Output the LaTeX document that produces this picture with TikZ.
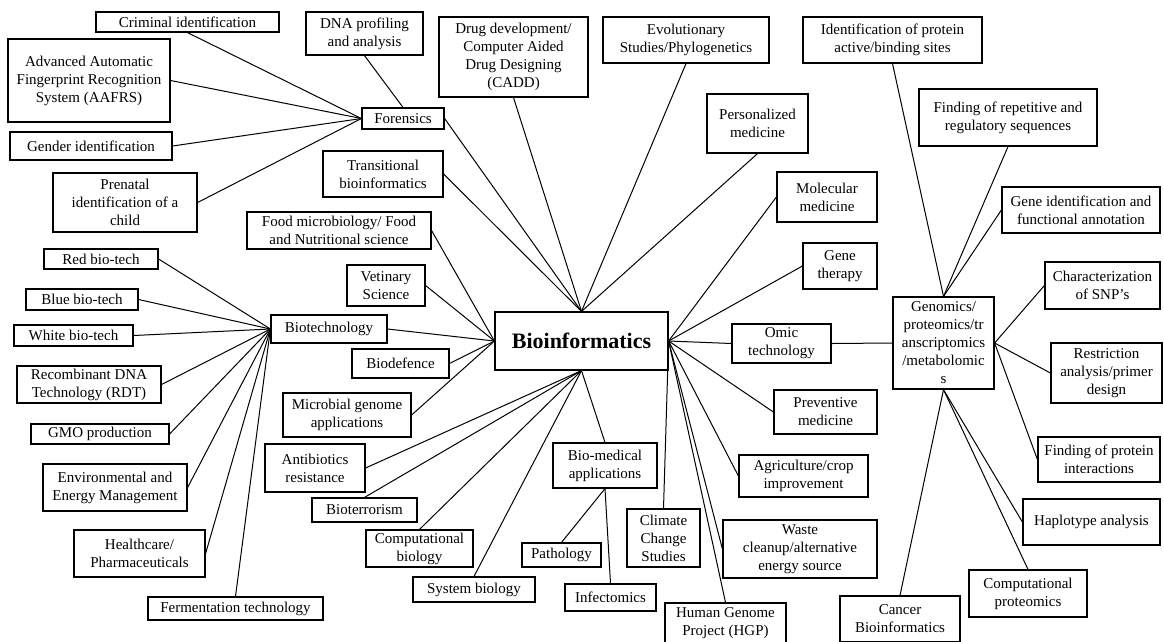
\documentclass[tikz,border=0pt]{standalone}
\usepackage{fontspec}
\setmainfont{Liberation Serif}
\usepackage{tikz}

\begin{document}
\begin{tikzpicture}[x=1pt, y=-1pt,
  box/.style={draw,line width=1.2pt,align=center,inner sep=1pt,font=\fontsize{15}{18}\selectfont},
  link/.style={line width=1pt}]
  \useasboundingbox (0,0) rectangle (1164,641);
  % centre
  \node[box,minimum width=173pt,minimum height=58pt,font=\fontsize{22}{26}\selectfont\bfseries] (bioinf) at (581.5,341) {Bioinformatics};
  % forensics
  \node[box,minimum width=183pt,minimum height=20pt] (crim) at (187.5,22) {Criminal identification};
  \node[box,minimum width=162pt,minimum height=83pt] (aafrs) at (89,80.5) {Advanced Automatic\\Fingerprint Recognition\\System (AAFRS)};
  \node[box,minimum width=162pt,minimum height=28pt] (gender) at (91,146) {Gender identification};
  \node[box,minimum width=144pt,minimum height=59pt] (prenatal) at (125,202.5) {Prenatal\\identification of a\\child};
  \node[box,minimum width=117pt,minimum height=43pt] (dna) at (364.5,33.5) {DNA profiling\\and analysis};
  \node[box,minimum width=82pt,minimum height=21pt] (foren) at (403,118.5) {Forensics};
  % upper left
  \node[box,minimum width=120pt,minimum height=46pt] (trans) at (383,174) {Transitional\\bioinformatics};
  \node[box,minimum width=184pt,minimum height=37pt] (food) at (339,230.5) {Food microbiology/ Food\\and Nutritional science};
  \node[box,minimum width=78pt,minimum height=41pt] (vet) at (386,285.5) {Vetinary\\Science};
  \node[box,minimum width=149pt,minimum height=80pt] (drug) at (513.5,57) {Drug development/\\Computer Aided\\Drug Designing\\(CADD)};
  \node[box,minimum width=166pt,minimum height=46pt] (evol) at (686,40) {Evolutionary\\Studies/Phylogenetics};
  % right side
  \node[box,minimum width=101pt,minimum height=59pt] (pers) at (757.5,123.5) {Personalized\\medicine};
  \node[box,minimum width=100pt,minimum height=50pt] (mol) at (827,197) {Molecular\\medicine};
  \node[box,minimum width=74pt,minimum height=46pt] (therapy) at (840,266) {Gene\\therapy};
  \node[box,minimum width=99pt,minimum height=39pt] (omic) at (781.5,343.5) {Omic\\technology};
  \node[box,minimum width=103pt,minimum height=44pt] (prev) at (825.5,412) {Preventive\\medicine};
  \node[box,minimum width=129pt,minimum height=42pt] (agri) at (803.5,476) {Agriculture/crop\\improvement};
  \node[box,minimum width=154pt,minimum height=58pt] (waste) at (800,549) {Waste\\cleanup/alternative\\energy source};
  \node[box,minimum width=121pt,minimum height=40pt] (hgp) at (725.5,623) {Human Genome\\Project (HGP)};
  \node[box,minimum width=73pt,minimum height=58pt] (climate) at (663.5,538) {Climate\\Change\\Studies};
  % omics
  \node[box,minimum width=101pt,minimum height=92pt] (genom) at (943.5,343) {Genomics/\\proteomics/tr\\anscriptomics\\/metabolomic\\s};
  \node[box,minimum width=179pt,minimum height=46pt] (idprot) at (892.5,40) {Identification of protein\\active/binding sites};
  \node[box,minimum width=178pt,minimum height=57pt] (repet) at (1008,117.5) {Finding of repetitive and\\regulatory sequences};
  \node[box,minimum width=158pt,minimum height=46pt] (geneid) at (1081,210) {Gene identification and\\functional annotation};
  \node[box,minimum width=115pt,minimum height=47pt] (snp) at (1102.5,285.5) {Characterization\\of SNP’s};
  \node[box,minimum width=111pt,minimum height=60pt] (restr) at (1106.5,373) {Restriction\\analysis/primer\\design};
  \node[box,minimum width=122pt,minimum height=45pt] (protint) at (1099,459.5) {Finding of protein\\interactions};
  \node[box,minimum width=137pt,minimum height=46pt] (haplo) at (1091.5,522) {Haplotype analysis};
  \node[box,minimum width=118pt,minimum height=47pt] (compprot) at (1028,593.5) {Computational\\proteomics};
  \node[box,minimum width=120pt,minimum height=46pt] (cancer) at (900,619) {Cancer\\Bioinformatics};
  % bottom
  \node[box,minimum width=104pt,minimum height=45pt] (biomed) at (605,465.5) {Bio-medical\\applications};
  \node[box,minimum width=79pt,minimum height=24pt] (patho) at (561.5,555) {Pathology};
  \node[box,minimum width=91pt,minimum height=27pt] (infect) at (610.5,597.5) {Infectomics};
  \node[box,minimum width=122pt,minimum height=25pt] (sysbio) at (474,589.5) {System biology};
  \node[box,minimum width=107pt,minimum height=37pt] (compbio) at (419.5,548.5) {Computational\\biology};
  \node[box,minimum width=100pt,minimum height=48pt] (antib) at (315,468) {Antibiotics\\resistance};
  \node[box,minimum width=105pt,minimum height=24pt] (bioterr) at (364.5,510) {Bioterrorism};
  % biotechnology
  \node[box,minimum width=116pt,minimum height=28pt] (biotech) at (329,329) {Biotechnology};
  \node[box,minimum width=97pt,minimum height=29pt] (biodef) at (400.5,363.5) {Biodefence};
  \node[box,minimum width=128pt,minimum height=44pt] (microb) at (347,415) {Microbial genome\\applications};
  \node[box,minimum width=114pt,minimum height=20pt] (red) at (101,259) {Red bio-tech};
  \node[box,minimum width=112pt,minimum height=21pt] (blue) at (82,299.5) {Blue bio-tech};
  \node[box,minimum width=119pt,minimum height=21pt] (white) at (73.5,335.5) {White bio-tech};
  \node[box,minimum width=144pt,minimum height=37pt] (rdt) at (89,384.5) {Recombinant DNA\\Technology (RDT)};
  \node[box,minimum width=138pt,minimum height=20pt] (gmo) at (100,434) {GMO production};
  \node[box,minimum width=144pt,minimum height=47pt] (env) at (115,487.5) {Environmental and\\Energy Management};
  \node[box,minimum width=131pt,minimum height=47pt] (health) at (139.5,553.5) {Healthcare/\\Pharmaceuticals};
  \node[box,minimum width=175pt,minimum height=23pt] (ferm) at (235.5,608.5) {Fermentation technology};

  % forensics links
  \draw[link] (crim.south) -- (foren.west);
  \draw[link] (aafrs.east) -- (foren.west);
  \draw[link] (gender.east) -- (foren.west);
  \draw[link] (prenatal.east) -- (foren.west);
  \draw[link] (dna.south) -- (foren.north);
  % into bioinformatics, top
  \draw[link] (foren.east) -- (bioinf.north);
  \draw[link] (trans.east) -- (bioinf.north);
  \draw[link] (drug.south) -- (bioinf.north);
  \draw[link] (evol.south) -- (bioinf.north);
  \draw[link] (pers.south) -- (bioinf.north);
  % left
  \draw[link] (food.east) -- (bioinf.west);
  \draw[link] (vet.east) -- (bioinf.west);
  \draw[link] (biotech.east) -- (bioinf.west);
  \draw[link] (biodef.east) -- (bioinf.west);
  \draw[link] (microb.east) -- (bioinf.west);
  % biotechnology links
  \draw[link] (red.east) -- (biotech.west);
  \draw[link] (blue.east) -- (biotech.west);
  \draw[link] (white.east) -- (biotech.west);
  \draw[link] (rdt.east) -- (biotech.west);
  \draw[link] (gmo.east) -- (biotech.west);
  \draw[link] (env.east) -- (biotech.west);
  \draw[link] (health.east) -- (biotech.west);
  \draw[link] (ferm.north) -- (biotech.west);
  % bottom
  \draw[link] (antib.east) -- (bioinf.south);
  \draw[link] (bioterr.north) -- (bioinf.south);
  \draw[link] (compbio.north) -- (bioinf.south);
  \draw[link] (sysbio.north) -- (bioinf.south);
  \draw[link] (biomed.north) -- (bioinf.south);
  \draw[link] (biomed.south) -- (patho.north);
  \draw[link] (biomed.south) -- (infect.north);
  % right
  \draw[link] (bioinf.east) -- (mol.west);
  \draw[link] (bioinf.east) -- (therapy.west);
  \draw[link] (bioinf.east) -- (omic.west);
  \draw[link] (bioinf.east) -- (prev.west);
  \draw[link] (bioinf.east) -- (agri.west);
  \draw[link] (bioinf.east) -- (waste.west);
  \draw[link] (bioinf.east) -- (hgp.north);
  \draw[link] (bioinf.east) -- (climate.north);
  \draw[link] (omic.east) -- (genom.west);
  % omics links
  \draw[link] (genom.north) -- (idprot.south);
  \draw[link] (genom.north) -- (repet.south);
  \draw[link] (genom.north) -- (geneid.west);
  \draw[link] (genom.east) -- (snp.west);
  \draw[link] (genom.east) -- (restr.west);
  \draw[link] (genom.east) -- (protint.west);
  \draw[link] (genom.south) -- (haplo.west);
  \draw[link] (genom.south) -- (compprot.north);
  \draw[link] (genom.south) -- (cancer.north);
\end{tikzpicture}
\end{document}
